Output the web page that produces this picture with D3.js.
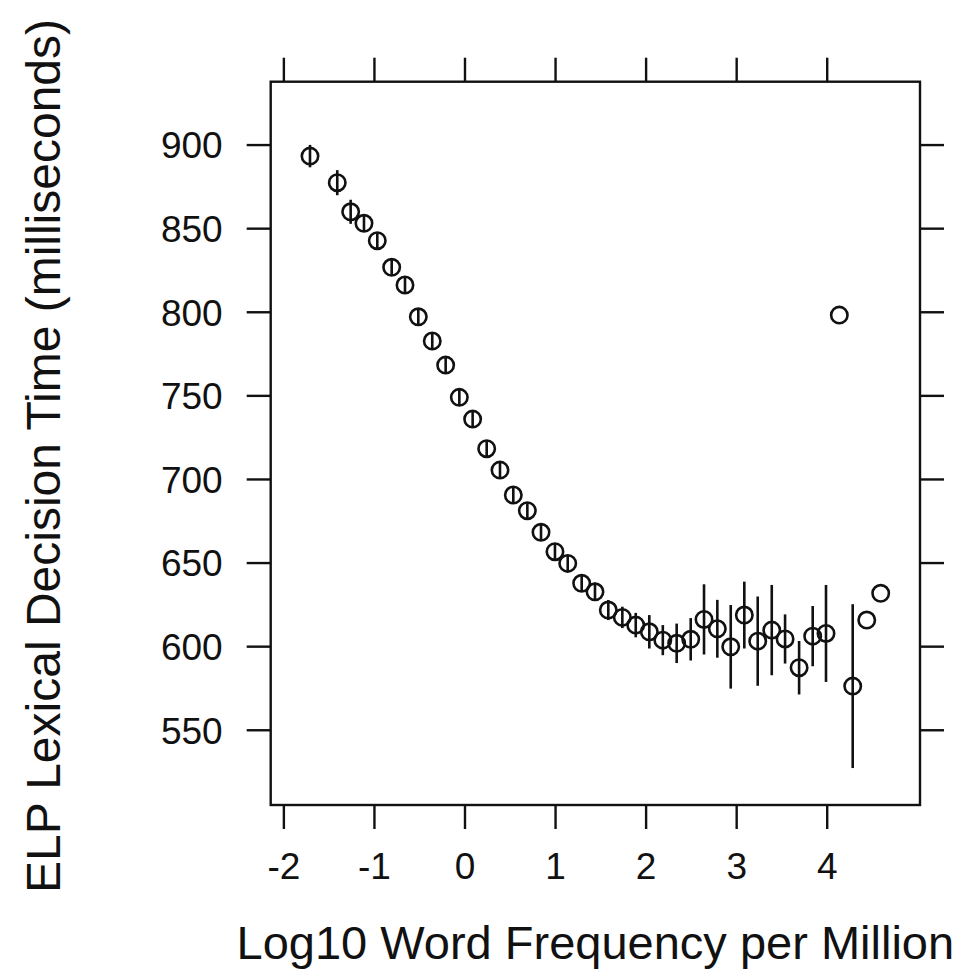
<!DOCTYPE html>
<html lang="en">
<head>
<meta charset="utf-8">
<title>ELP lexical decision time by word frequency</title>
<script src="https://d3js.org/d3.v7.min.js"></script>
<style>
  body { margin: 0; background: #fff; }
  text { font-family: "Liberation Sans", Arial, sans-serif; fill: #111; }
</style>
</head>
<body>
<script>
// binned log10 frequency (x), mean RT (y), half length of the error bar (ms)
var logFreq = [-1.706, -1.405, -1.257, -1.110, -0.963, -0.804, -0.657, -0.510, -0.356, -0.208,
               -0.057, 0.090, 0.245, 0.392, 0.539, 0.694, 0.845, 0.999, 1.140, 1.294,
               1.441, 1.588, 1.743, 1.891, 2.041, 2.190, 2.343, 2.498, 2.645, 2.792,
               2.940, 3.090, 3.238, 3.393, 3.540, 3.695, 3.845, 3.992, 4.139, 4.287,
               4.442, 4.596];
var meanRT = [893.1, 877.2, 859.8, 852.9, 842.5, 826.6, 816.0, 797.0, 782.5, 768.1,
              748.8, 735.8, 718.1, 705.3, 690.4, 681.0, 668.1, 656.5, 649.5, 637.6,
              632.5, 621.6, 617.2, 612.6, 608.6, 603.6, 601.7, 604.1, 616.0, 610.4,
              599.6, 618.6, 603.0, 609.6, 604.3, 587.1, 606.0, 607.6, 798.0, 576.1,
              615.6, 631.6];
var errRT = [6.7, 7.5, 7.2, 5, 4.5, 4.5, 4.5, 4.5, 4.5, 4.5,
             4.5, 4.5, 4.5, 4.5, 4.5, 4.5, 4.5, 4.5, 4.5, 5,
             5.5, 6, 6.4, 7.3, 10, 9, 11.8, 12.7, 21, 17.3,
             25, 20, 26.7, 27, 14.7, 16, 18, 29, 0, 49,
             0, 0];
var xTicks = [-2, -1, 0, 1, 2, 3, 4];
var yTicks = [550, 600, 650, 700, 750, 800, 850, 900];

var width = 978, height = 970;
var plotL = 270.7, plotR = 920, plotT = 81.7, plotB = 805;

var svg = d3.select("body").append("svg")
    .attr("width", width)
    .attr("height", height);

var x = d3.scaleLinear().domain([-2.14, 5.03]).range([plotL, plotR]);
var y = d3.scaleLinear().domain([505, 937.6]).range([plotB, plotT]);

function styleAxis(g) {
    g.attr("font-size", null).attr("font-family", null);
    g.select(".domain").remove();
    g.selectAll(".tick line").attr("stroke", "#111").attr("stroke-width", 2.4);
    g.selectAll(".tick text").style("font-size", "37px").attr("fill", "#111");
}

svg.append("g")
    .attr("transform", "translate(0," + plotB + ")")
    .call(d3.axisBottom(x).tickValues(xTicks).tickSize(24).tickPadding(24)
        .tickFormat(function(d) { return d < 0 ? "-" + Math.abs(d) : d; }))
    .call(styleAxis);

svg.append("g")
    .attr("transform", "translate(0," + plotT + ")")
    .call(d3.axisTop(x).tickValues(xTicks).tickSize(24).tickFormat(""))
    .call(styleAxis);

svg.append("g")
    .attr("transform", "translate(" + plotL + ",0)")
    .call(d3.axisLeft(y).tickValues(yTicks).tickSize(24).tickPadding(24))
    .call(styleAxis)
    .selectAll(".tick text").attr("dy", "0.36em");

svg.append("g")
    .attr("transform", "translate(" + plotR + ",0)")
    .call(d3.axisRight(y).tickValues(yTicks).tickSize(24).tickFormat(""))
    .call(styleAxis);

// frame
svg.append("rect")
    .attr("x", plotL).attr("y", plotT)
    .attr("width", plotR - plotL).attr("height", plotB - plotT)
    .attr("fill", "none").attr("stroke", "#111").attr("stroke-width", 2.4);

var pts = logFreq.map(function(d, i) {
    return { f: d, rt: meanRT[i], e: errRT[i] };
});

svg.append("g").selectAll("line")
    .data(pts.filter(function(d) { return d.e > 0; }))
    .enter().append("line")
    .attr("x1", function(d) { return x(d.f); })
    .attr("x2", function(d) { return x(d.f); })
    .attr("y1", function(d) { return y(d.rt - d.e); })
    .attr("y2", function(d) { return y(d.rt + d.e); })
    .attr("stroke", "#111")
    .attr("stroke-width", 2.6);

svg.append("g").selectAll("circle")
    .data(pts)
    .enter().append("circle")
    .attr("cx", function(d) { return x(d.f); })
    .attr("cy", function(d) { return y(d.rt); })
    .attr("r", 8.2)
    .attr("fill", "none")
    .attr("stroke", "#111")
    .attr("stroke-width", 2.6);

svg.append("text")
    .attr("x", (plotL + plotR) / 2)
    .attr("y", 959)
    .attr("text-anchor", "middle")
    .style("font-size", "47px")
    .text("Log10 Word Frequency per Million");

svg.append("text")
    .attr("transform", "translate(60,456) rotate(-90)")
    .attr("text-anchor", "middle")
    .style("font-size", "48px")
    .text("ELP Lexical Decision Time (milliseconds)");
</script>
</body>
</html>
